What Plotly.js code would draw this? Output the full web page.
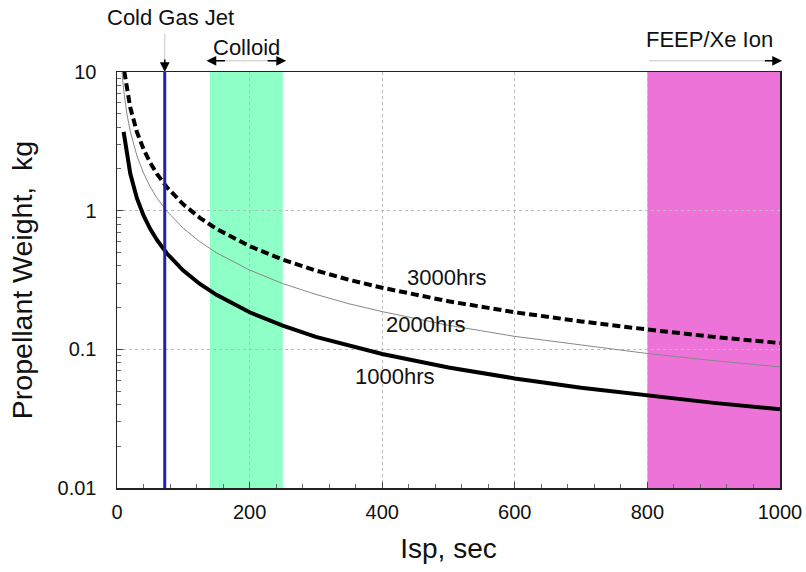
<!DOCTYPE html>
<html>
<head>
<meta charset="utf-8">
<script src="https://cdn.plot.ly/plotly-3.0.1.min.js"></script>
<style>html,body{margin:0;padding:0;background:#fff;}#chart{width:806px;height:572px;}</style>
</head>
<body>
<div id="chart"></div>
<script>
// Isp (sec) sample points
const isp1000 = [10, 15, 20, 30, 40, 50, 60, 75, 100, 125, 150, 200, 250, 300, 350, 400, 500, 600, 700, 800, 900, 1000];
const w1000 = [3.7, 2.47, 1.85, 1.23, 0.925, 0.74, 0.617, 0.493, 0.37, 0.296, 0.247, 0.185, 0.148, 0.123, 0.106, 0.0925, 0.074, 0.0617, 0.0529, 0.0463, 0.0411, 0.037];
const isp2000 = [7.5, 10, 15, 20, 30, 40, 50, 60, 75, 100, 125, 150, 200, 250, 300, 350, 400, 500, 600, 700, 800, 900, 1000];
const w2000 = [9.95, 7.46, 4.97, 3.73, 2.49, 1.87, 1.49, 1.24, 0.995, 0.746, 0.597, 0.497, 0.373, 0.298, 0.249, 0.213, 0.187, 0.149, 0.124, 0.107, 0.0933, 0.0829, 0.0746];
const isp3000 = [11, 15, 20, 30, 40, 50, 60, 75, 100, 125, 150, 200, 250, 300, 350, 400, 500, 600, 700, 800, 900, 1000];
const w3000 = [10.1, 7.4, 5.55, 3.7, 2.78, 2.22, 1.85, 1.48, 1.11, 0.888, 0.74, 0.555, 0.444, 0.37, 0.317, 0.278, 0.222, 0.185, 0.159, 0.139, 0.123, 0.111];

// Thruster regions (Isp, sec)
const coldGasIsp = 72;
const colloidRange = [140, 250];
const feepRange = [800, 1000];

// Curve labels: x (Isp) and y (kg)
const curveLabels = ["3000hrs", "2000hrs", "1000hrs"];
const labelX = [498, 466, 419];
const labelY = [0.327, 0.152, 0.0632];

const font = "Liberation Sans, Arial, Helvetica, sans-serif";

const traces = [
  {x: isp3000, y: w3000, mode: "lines", line: {color: "#000", width: 4, dash: "8px,4px"}, hoverinfo: "skip"},
  {x: isp2000, y: w2000, mode: "lines", line: {color: "#888", width: 1}, hoverinfo: "skip"},
  {x: isp1000, y: w1000, mode: "lines", line: {color: "#000", width: 4}, hoverinfo: "skip"}
];

const shapes = [
  {type: "rect", xref: "x", yref: "paper", x0: colloidRange[0], x1: colloidRange[1], y0: 0, y1: 1, fillcolor: "#8effc6", line: {width: 0}, layer: "below"},
  {type: "rect", xref: "x", yref: "paper", x0: feepRange[0], x1: feepRange[1], y0: 0, y1: 1, fillcolor: "#ee73d9", line: {width: 0}, layer: "below"},
  {type: "line", xref: "x", yref: "paper", x0: coldGasIsp, x1: coldGasIsp, y0: 0, y1: 1, line: {color: "#2222b0", width: 3}}
];

const arrowY = 1.027;
const txt = {family: font, size: 22, color: "#111"};
const annotations = [
  {text: "Cold Gas Jet", xref: "x", yref: "paper", x: coldGasIsp, xshift: 6, y: 1.13, showarrow: false, font: txt, yanchor: "middle"},
  {text: "", xref: "x", yref: "paper", x: coldGasIsp, y: 1.0, ax: 0, ay: -40, showarrow: true, arrowhead: 0, arrowwidth: 1, arrowcolor: "#c8c8c8"},
  {text: "", xref: "x", yref: "paper", x: coldGasIsp, y: 1.0, ax: 0, ay: -14, showarrow: true, arrowhead: 2, arrowsize: 1.3, arrowwidth: 1.5, arrowcolor: "#000"},
  {text: "Colloid", xref: "x", yref: "paper", x: (colloidRange[0] + colloidRange[1]) / 2, y: 1.058, showarrow: false, font: txt, yanchor: "middle"},
  {text: "", xref: "x", yref: "paper", axref: "x", x: colloidRange[1] + 5, y: arrowY, ax: colloidRange[0] - 5, ay: 0, showarrow: true, arrowhead: 0, arrowwidth: 1, arrowcolor: "#c8c8c8"},
  {text: "", xref: "x", yref: "paper", axref: "x", x: colloidRange[1] + 5, y: arrowY, ax: colloidRange[1] - 25, ay: 0, showarrow: true, arrowhead: 2, arrowsize: 1.3, arrowwidth: 1.5, arrowcolor: "#000"},
  {text: "", xref: "x", yref: "paper", axref: "x", x: colloidRange[0] - 5, y: arrowY, ax: colloidRange[0] + 25, ay: 0, showarrow: true, arrowhead: 2, arrowsize: 1.3, arrowwidth: 1.5, arrowcolor: "#000"},
  {text: "FEEP/Xe Ion", xref: "x", yref: "paper", x: feepRange[0], xshift: -3, xanchor: "left", y: 1.077, showarrow: false, font: txt, yanchor: "middle"},
  {text: "", xref: "x", yref: "paper", axref: "x", x: feepRange[1] + 3, y: arrowY, ax: feepRange[0], ay: 0, showarrow: true, arrowhead: 0, arrowwidth: 1, arrowcolor: "#c8c8c8"},
  {text: "", xref: "x", yref: "paper", axref: "x", x: feepRange[1] + 3, y: arrowY, ax: feepRange[1] - 25, ay: 0, showarrow: true, arrowhead: 2, arrowsize: 1.3, arrowwidth: 1.5, arrowcolor: "#000"}
];
curveLabels.forEach((t, i) => {
  annotations.push({text: t, xref: "x", yref: "y", x: labelX[i], y: Math.log10(labelY[i]), showarrow: false, font: txt});
});

const layout = {
  width: 806, height: 572,
  margin: {l: 117, r: 26, t: 72, b: 84},
  paper_bgcolor: "#fff", plot_bgcolor: "#fff",
  showlegend: false,
  font: {family: font, size: 20, color: "#111"},
  xaxis: {
    range: [0, 1000], dtick: 200, tick0: 0,
    showline: true, mirror: true, linecolor: "#222", linewidth: 1.5,
    ticks: "inside", ticklen: 6, tickcolor: "#444",
    showgrid: true, gridcolor: "#bbb", griddash: "dot", gridwidth: 1,
    zeroline: false,
    minor: {dtick: 40, ticks: "inside", ticklen: 4, tickcolor: "#666", showgrid: false},
    ticklabelstandoff: 5,
    tickfont: {family: font, size: 20, color: "#111"},
    title: {text: "Isp, sec", font: {family: font, size: 28, color: "#111"}, standoff: 17}
  },
  yaxis: {
    type: "log", range: [-2, 1], dtick: 1,
    tickvals: [0.01, 0.1, 1, 10], ticktext: ["0.01", "0.1", "1", "10"],
    showline: true, mirror: true, linecolor: "#222", linewidth: 1.5,
    ticks: "inside", ticklen: 6, tickcolor: "#444",
    showgrid: true, gridcolor: "#bbb", griddash: "dot", gridwidth: 1,
    zeroline: false,
    minor: {dtick: "D1", ticks: "inside", ticklen: 4, tickcolor: "#666", showgrid: false},
    ticklabelstandoff: 15,
    tickfont: {family: font, size: 20, color: "#111"},
    title: {text: "Propellant Weight,  kg", font: {family: font, size: 28.5, color: "#111"}, standoff: 16}
  },
  shapes: shapes,
  annotations: annotations
};

Plotly.newPlot("chart", traces, layout, {displayModeBar: false, staticPlot: true});
</script>
</body>
</html>
